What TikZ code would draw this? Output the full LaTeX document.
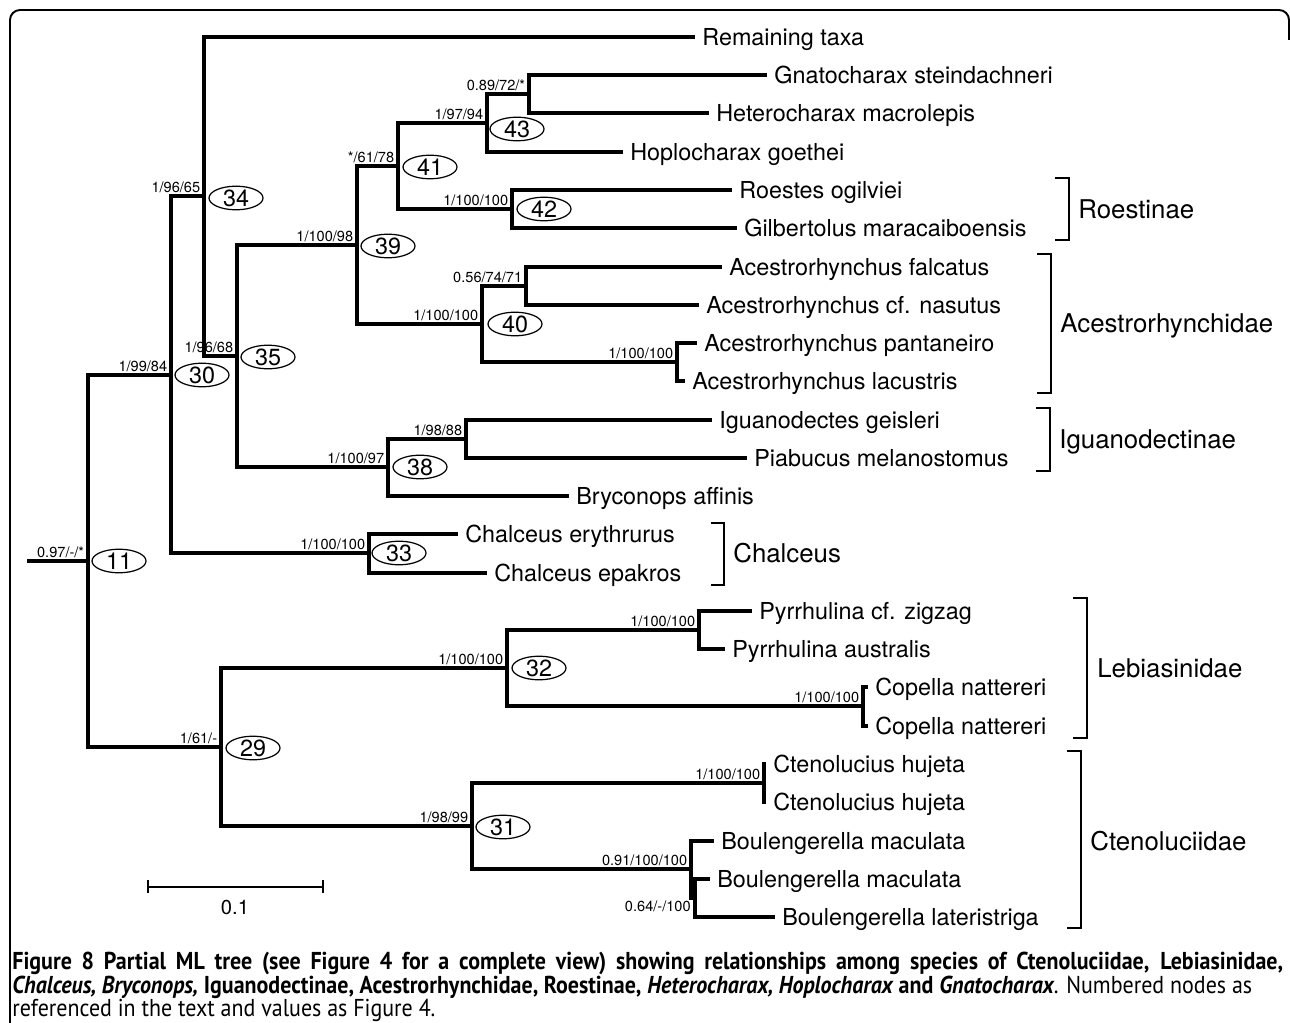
\documentclass[tikz,border=0pt]{standalone}
\usepackage{fontspec}
\setmainfont{TeX Gyre Heros}
\newfontfamily\capfont[FakeStretch=0.9]{PT Sans}
\usetikzlibrary{shapes.geometric}
\newcommand{\taxfont}{\fontsize{13.3}{15}\selectfont}
\newcommand{\supfont}{\fontsize{8.3}{9}\selectfont}
\newcommand{\cladefont}{\fontsize{14.7}{17}\selectfont}
\newcommand{\capsize}{\capfont\fontsize{13.9}{16}\selectfont}
\tikzset{
  branch/.style={line width=2pt, line cap=rect},
  taxon/.style={anchor=west, inner xsep=0.18cm, inner ysep=0pt, font=\taxfont, text height=9.6pt, text depth=0pt},
  supp/.style={anchor=south east, inner sep=0.07cm, font=\supfont, text depth=0pt},
  nnum/.style={draw, ellipse, line width=0.7pt, minimum width=1.08cm, minimum height=0.44cm, inner sep=0pt, font=\taxfont, text height=9.5pt, text depth=0pt},
  clade/.style={anchor=west, inner sep=0pt, font=\cladefont, text height=10.6pt, text depth=0pt},
  bracket/.style={line width=1.2pt},
  capline/.style={anchor=base west, inner sep=0pt, font=\capsize},
}
\begin{document}
\begin{tikzpicture}[x=0.02cm, y=-0.02cm]
    \useasboundingbox (0,0) rectangle (1290,1023);
    \draw [line width=1.1pt, rounded corners=0.2cm] (10,1030) -- (10,10) -- (1289,10) -- (1289,40);
    % taxa
    \node [taxon] (rem) at (693,37) {Remaining taxa};
    \node [taxon] (gna) at (765,75) {Gnatocharax steindachneri};
    \node [taxon] (het) at (707,113) {Heterocharax macrolepis};
    \node [taxon] (hop) at (621,152) {Hoplocharax goethei};
    \node [taxon] (roe) at (730,190) {Roestes ogilviei};
    \node [taxon] (gil) at (735,228) {Gilbertolus maracaiboensis};
    \node [taxon] (afa) at (720,267) {Acestrorhynchus falcatus};
    \node [taxon] (ana) at (697,305) {Acestrorhynchus cf. nasutus};
    \node [taxon] (apa) at (695,343) {Acestrorhynchus pantaneiro};
    \node [taxon] (ala) at (683,381) {Acestrorhynchus lacustris};
    \node [taxon] (igu) at (710,420) {Iguanodectes geisleri};
    \node [taxon] (pia) at (745,458) {Piabucus melanostomus};
    \node [taxon] (bry) at (567,496) {Bryconops affinis};
    \node [taxon] (cer) at (456,534) {Chalceus erythrurus};
    \node [taxon] (cep) at (485,573) {Chalceus epakros};
    \node [taxon] (pzi) at (750,611) {Pyrrhulina cf. zigzag};
    \node [taxon] (pau) at (723,649) {Pyrrhulina australis};
    \node [taxon] (cna1) at (866,687) {Copella nattereri};
    \node [taxon] (cna2) at (866,726) {Copella nattereri};
    \node [taxon] (chu1) at (764,764) {Ctenolucius hujeta};
    \node [taxon] (chu2) at (764,802) {Ctenolucius hujeta};
    \node [taxon] (bma1) at (712,841) {Boulengerella maculata};
    \node [taxon] (bma2) at (708,879) {Boulengerella maculata};
    \node [taxon] (bla) at (773,917) {Boulengerella lateristriga};
    % internal nodes
    \coordinate (root) at (29,561);
    \coordinate (n11) at (88,561);
    \coordinate (n30) at (171,375);
    \coordinate (n34) at (204,196);
    \coordinate (n35) at (237,356);
    \coordinate (n39) at (357,245);
    \coordinate (n41) at (398,166);
    \coordinate (n43) at (487,123);
    \coordinate (ngh) at (529,94);
    \coordinate (n42) at (512,209);
    \coordinate (n40) at (482,324);
    \coordinate (nfn) at (526,286);
    \coordinate (npl) at (677,362);
    \coordinate (n38) at (388,467);
    \coordinate (nig) at (466,439);
    \coordinate (n33) at (369,553);
    \coordinate (n29) at (221,747);
    \coordinate (n32) at (507,668);
    \coordinate (npy) at (699,630);
    \coordinate (nco) at (863,706);
    \coordinate (n31) at (472,826);
    \coordinate (nct) at (764,783);
    \coordinate (nbo) at (691,869);
    \coordinate (nbl) at (695,898);
    % branches
    \draw [branch] (root) -- (n11);
    \draw [branch] (n11) |- (n30);
    \draw [branch] (n11) |- (n29);
    \draw [branch] (n30) |- (n34);
    \draw [branch] (n30) |- (n33);
    \draw [branch] (n34) |- (rem.west);
    \draw [branch] (n34) |- (n35);
    \draw [branch] (n35) |- (n39);
    \draw [branch] (n35) |- (n38);
    \draw [branch] (n39) |- (n41);
    \draw [branch] (n39) |- (n40);
    \draw [branch] (n41) |- (n43);
    \draw [branch] (n41) |- (n42);
    \draw [branch] (n43) |- (ngh);
    \draw [branch] (n43) |- (hop.west);
    \draw [branch] (ngh) |- (gna.west);
    \draw [branch] (ngh) |- (het.west);
    \draw [branch] (n42) |- (roe.west);
    \draw [branch] (n42) |- (gil.west);
    \draw [branch] (n40) |- (nfn);
    \draw [branch] (n40) |- (npl);
    \draw [branch] (nfn) |- (afa.west);
    \draw [branch] (nfn) |- (ana.west);
    \draw [branch] (npl) |- (apa.west);
    \draw [branch] (npl) |- (ala.west);
    \draw [branch] (n38) |- (nig);
    \draw [branch] (n38) |- (bry.west);
    \draw [branch] (nig) |- (igu.west);
    \draw [branch] (nig) |- (pia.west);
    \draw [branch] (n33) |- (cer.west);
    \draw [branch] (n33) |- (cep.west);
    \draw [branch] (n29) |- (n32);
    \draw [branch] (n29) |- (n31);
    \draw [branch] (n32) |- (npy);
    \draw [branch] (n32) |- (nco);
    \draw [branch] (npy) |- (pzi.west);
    \draw [branch] (npy) |- (pau.west);
    \draw [branch] (nco) |- (cna1.west);
    \draw [branch] (nco) |- (cna2.west);
    \draw [branch] (n31) |- (nct);
    \draw [branch] (n31) |- (nbo);
    \draw [branch] (nct) |- (chu1.west);
    \draw [branch] (nct) |- (chu2.west);
    \draw [branch] (nbo) |- (bma1.west);
    \draw [branch] (nbo) |- (nbl);
    \draw [branch] (nbl) |- (bma2.west);
    \draw [branch] (nbl) |- (bla.west);
    % support values
    \node [supp] (s11) at (root -| n11) {0.97/-/*};
    \node [supp] (s30) at (n30) {1/99/84};
    \node [supp] (s34) at (n34) {1/96/65};
    \node [supp] (s35) at (n35) {1/96/68};
    \node [supp] (s39) at (n39) {1/100/98};
    \node [supp] (s41) at (n41) {*/61/78};
    \node [supp] (s43) at (n43) {1/97/94};
    \node [supp] (sgh) at (ngh) {0.89/72/*};
    \node [supp] (s42) at (n42) {1/100/100};
    \node [supp] (s40) at (n40) {1/100/100};
    \node [supp] (sfn) at (nfn) {0.56/74/71};
    \node [supp] (spl) at (npl) {1/100/100};
    \node [supp] (s38) at (n38) {1/100/97};
    \node [supp] (sig) at (nig) {1/98/88};
    \node [supp] (s33) at (n33) {1/100/100};
    \node [supp] (s29) at (n29) {1/61/-};
    \node [supp] (s32) at (n32) {1/100/100};
    \node [supp] (spy) at (npy) {1/100/100};
    \node [supp] (sco) at (nco) {1/100/100};
    \node [supp] (s31) at (n31) {1/98/99};
    \node [supp] (sct) at (nct) {1/100/100};
    \node [supp] (sbo) at (nbo) {0.91/100/100};
    \node [supp, anchor=north east, inner sep=0.02cm] (sbl) at (692,900) {0.64/-/100};
    % numbered nodes
    \node [nnum] (e11) at (119,561) {11};
    \node [nnum] (e30) at (202,375) {30};
    \node [nnum] (e34) at (236,198) {34};
    \node [nnum] (e35) at (268,357) {35};
    \node [nnum] (e39) at (388,246) {39};
    \node [nnum] (e41) at (430,167) {41};
    \node [nnum] (e43) at (517,129) {43};
    \node [nnum] (e42) at (544,209) {42};
    \node [nnum] (e40) at (515,324) {40};
    \node [nnum] (e38) at (420,467) {38};
    \node [nnum] (e33) at (399,553) {33};
    \node [nnum] (e29) at (253,748) {29};
    \node [nnum] (e32) at (539,668) {32};
    \node [nnum] (e31) at (503,827) {31};
    % groups
    \node [clade] (roestinae) at (1078,209) {Roestinae};
    \draw [bracket] (1055,178) -| (1069,240) -- (1055,240);
    \node [clade] (acestro) at (1060,323) {Acestrorhynchidae};
    \draw [bracket] (1037,254) -| (1051,393) -- (1037,393);
    \node [clade] (iguano) at (1059,439) {Iguanodectinae};
    \draw [bracket] (1036,408) -| (1050,471) -- (1036,471);
    \node [clade] (chalceus) at (733,553) {Chalceus};
    \draw [bracket] (711,523) -| (724,585) -- (711,585);
    \node [clade] (lebias) at (1097,668) {Lebiasinidae};
    \draw [bracket] (1073,598) -| (1087,738) -- (1073,738);
    \node [clade] (cteno) at (1090,841) {Ctenoluciidae};
    \draw [bracket] (1067,751) -| (1081,928) -- (1067,928);
    % scale bar
    \coordinate (sbl) at (148,887);
    \coordinate (sbr) at (323,887);
    \draw [line width=1.1pt] (sbl) -- (sbr);
    \draw [line width=1.1pt] ([yshift=0.14cm]sbl) -- ([yshift=-0.12cm]sbl);
    \draw [line width=1.1pt] ([yshift=0.14cm]sbr) -- ([yshift=-0.12cm]sbr);
    \node [font=\fontsize{11.5}{13}\selectfont, inner sep=0pt] (sbt) at (235,907) {0.1};
    % caption
    \node [capline] (cap1) at (12,969) {\makebox[25.42cm][s]{\bfseries Figure 8 Partial ML tree (see Figure 4 for a complete view) showing relationships among species of Ctenoluciidae, Lebiasinidae,}};
    \node [capline] (cap2) at (12,993) {{\bfseries\itshape Chalceus, Bryconops,} {\bfseries Iguanodectinae, Acestrorhynchidae, Roestinae,} {\bfseries\itshape Heterocharax, Hoplocharax} {\bfseries and} {\bfseries\itshape Gnatocharax}. Numbered nodes as};
    \node [capline] (cap3) at (12,1016) {referenced in the text and values as Figure 4.};
\end{tikzpicture}
\end{document}
